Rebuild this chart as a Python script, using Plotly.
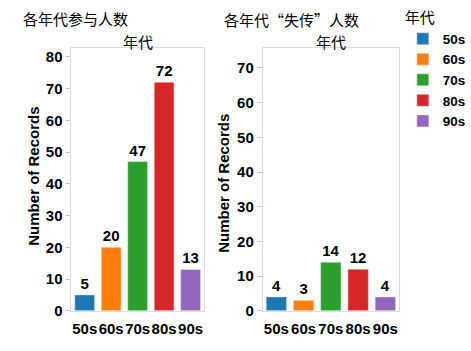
import plotly.graph_objects as go

decades = ["50s", "60s", "70s", "80s", "90s"]
participants = [5, 20, 47, 72, 13]
lost = [4, 3, 14, 12, 4]
colors = ["#1f77b4", "#ff7f0e", "#2ca02c", "#d62728", "#9467bd"]
left_ticks = [0, 10, 20, 30, 40, 50, 60, 70, 80]
right_ticks = [0, 10, 20, 30, 40, 50, 60, 70]

W, H = 471, 351
LAT = "Liberation Sans, Arial, sans-serif"
CJK = "Noto Sans CJK SC, sans-serif"
bold15 = dict(family=LAT, size=15, color="#000000", weight="bold")

fig = go.Figure()
for d, v, c in zip(decades, participants, colors):
    fig.add_trace(go.Bar(x=[d], y=[v], name=d, marker_color=c, text=[v],
                         textposition="outside", textfont=bold15, cliponaxis=False,
                         xaxis="x", yaxis="y", legendgroup=d, showlegend=True))
for d, v, c in zip(decades, lost, colors):
    fig.add_trace(go.Bar(x=[d], y=[v], name=d, marker_color=c, text=[v],
                         textposition="outside", textfont=bold15, cliponaxis=False,
                         xaxis="x2", yaxis="y2", legendgroup=d, showlegend=False))

frame = dict(showline=True, mirror=True, linecolor="#dcdcdc", linewidth=1,
             showgrid=False, zeroline=False)
ybot = 1 - 318 / H
ytop = 1 - 49 / H
fig.update_layout(
    width=W, height=H, margin=dict(l=0, r=0, t=0, b=0),
    paper_bgcolor="white", plot_bgcolor="white",
    barmode="relative", bargap=0.25,
    font=dict(family=LAT, size=15, color="#000"),
    xaxis=dict(domain=[74 / W, 211 / W], anchor="y", categoryorder="array",
               categoryarray=decades, tickfont=bold15, ticks="", tickangle=0,
               ticklabelstandoff=4, **frame),
    yaxis=dict(domain=[ybot, ytop], anchor="x", range=[0, 82.8], tickvals=left_ticks,
               ticks="outside", ticklen=5, tickcolor="#c8c8c8", tickfont=bold15, **frame),
    xaxis2=dict(domain=[272 / W, 413 / W], anchor="y2", categoryorder="array",
                categoryarray=decades, tickfont=bold15, ticks="", tickangle=0,
                ticklabelstandoff=4, **frame),
    yaxis2=dict(domain=[ybot, ytop], anchor="x2", range=[0, 75.8], tickvals=right_ticks,
                ticks="outside", ticklen=5, tickcolor="#c8c8c8", tickfont=bold15, **frame),
    legend=dict(title=dict(text="年代", font=dict(family=CJK, size=15, weight="normal")),
                font=dict(family=LAT, size=13.5, color="#000", weight="bold"),
                x=417 / W, y=1 - 4 / H, xanchor="left", yanchor="top",
                tracegroupgap=0, bgcolor="rgba(0,0,0,0)"),
    annotations=[
        dict(text="各年代参与人数", x=22 / W, y=1 - 19 / H, xref="paper", yref="paper",
             xanchor="left", yanchor="middle", showarrow=False, font=dict(family=CJK, size=15)),
        dict(text="各年代“失传”人数", x=230 / W, y=1 - 20 / H, xref="paper", yref="paper",
             xanchor="left", yanchor="middle", showarrow=False, font=dict(family=CJK, size=15)),
        dict(text="年代", x=143 / W, y=1 - 42 / H, xref="paper", yref="paper",
             xanchor="center", yanchor="middle", showarrow=False, font=dict(family=CJK, size=15)),
        dict(text="年代", x=343 / W, y=1 - 42 / H, xref="paper", yref="paper",
             xanchor="center", yanchor="middle", showarrow=False, font=dict(family=CJK, size=15)),
        dict(text="Number of Records", x=35 / W, y=1 - 180 / H, xref="paper", yref="paper",
             textangle=-90, xanchor="center", yanchor="middle", showarrow=False, font=bold15),
        dict(text="Number of Records", x=232 / W, y=1 - 188 / H, xref="paper", yref="paper",
             textangle=-90, xanchor="center", yanchor="middle", showarrow=False, font=bold15),
    ],
)

fig.write_html("out.html")
